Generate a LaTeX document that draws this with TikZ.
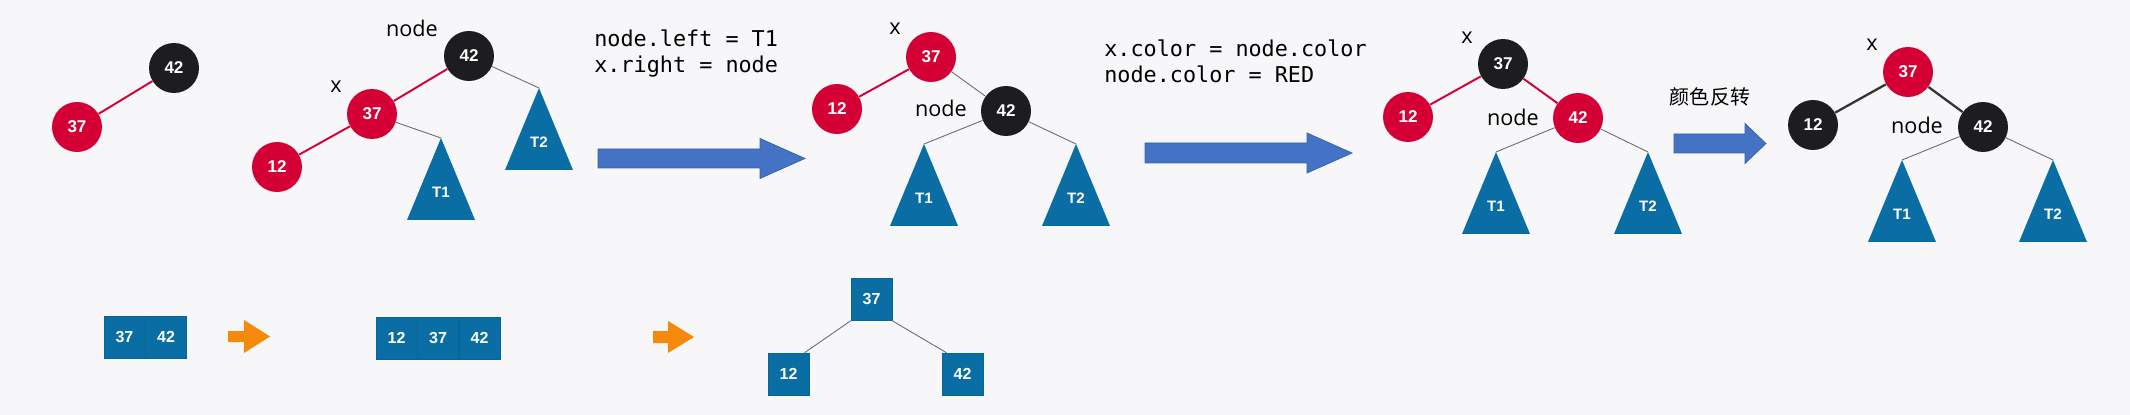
\documentclass[tikz,border=0pt]{standalone}
\usepackage{fontspec}
\setmainfont{Open Sans}
\setmonofont{DejaVu Sans Mono}
\newfontfamily\numfont{Liberation Sans}
\newfontfamily\cjk{Noto Sans CJK SC}
\usetikzlibrary{positioning, calc}

\definecolor{rbred}{HTML}{D40035}
\definecolor{rbblack}{HTML}{1D1D1F}
\definecolor{treeblue}{HTML}{0A6DA4}
\definecolor{arrowblue}{HTML}{4472C4}
\definecolor{arroworange}{HTML}{F5890A}
\definecolor{fundo}{HTML}{F7F7F9}

\tikzset{
  rb/.style={circle, minimum size=1cm, inner sep=0pt, text=white, font=\numfont\bfseries\fontsize{9.7}{10}\selectfont},
  redn/.style={rb, fill=rbred},
  blackn/.style={rb, fill=rbblack},
  lbl/.style={inner sep=0pt, font=\fontsize{12.3}{14}\selectfont},
  redge/.style={draw=rbred, line width=1.1pt},
  gedge/.style={draw=gray!85!black, line width=0.5pt},
  kedge/.style={draw=rbblack!90, line width=1.3pt},
  cell/.style={rectangle, fill=treeblue, draw=treeblue!92!black, line width=0.3pt, minimum width=0.82cm, minimum height=0.84cm, inner sep=0pt, text=white, font=\numfont\bfseries\fontsize{9.1}{10}\selectfont},
  code/.style={inner sep=0pt, align=left, anchor=base west, font=\ttfamily\fontsize{12.4}{14.8}\selectfont},
  bluearrow/.style={fill=arrowblue, draw=arrowblue!85!black, line width=0.4pt},
  orangearrow/.style={fill=arroworange, draw=none},
}

% sub-arvore: nome do vertice, x, y, rotulo
\newcommand{\subtree}[4]{
  \coordinate (#1) at (#2,#3);
  \fill[treeblue] (#1) -- ++(-34,82) -- ++(68,0) -- cycle;
  \node[text=white, font=\numfont\bfseries\fontsize{8.6}{10}\selectfont] (#1lbl) at (#2,#3+54) {#4};
}
% seta larga: x inicio, x cabeca, x ponta, y centro, meia haste, meia cabeca, estilo
\newcommand{\blockarrow}[7]{
  \path[#7] (#1,#4-#5) -- (#2,#4-#5) -- (#2,#4-#6) -- (#3,#4) -- (#2,#4+#6) -- (#2,#4+#5) -- (#1,#4+#5) -- cycle;
}

\begin{document}
\begin{tikzpicture}[x=0.02cm, y=-0.02cm]
\fill[fundo] (0,0) rectangle (2130,415);
\useasboundingbox (0,0) rectangle (2130,415);

% --- arvore 1 ---
\node[blackn] (a42) at (174,68) {42};
\node[redn] (a37) at (77,127) {37};
\draw[redge] (a42) -- (a37);

% --- arvore 2 ---
\node[blackn] (b42) at (469,56) {42};
\node[redn] (b37) at (372,114) {37};
\node[redn] (b12) at (277,167) {12};
\node[lbl] (bnode) at (412,28) {node};
\node[lbl] (bx) at (336,87) {x};
\subtree{bT1}{441}{138}{T1}
\subtree{bT2}{539}{88}{T2}
\draw[redge] (b42) -- (b37);
\draw[redge] (b37) -- (b12);
\draw[gedge] (b37) -- (bT1);
\draw[gedge] (b42) -- (bT2);

% --- passo 1 ---
\node[code] (code1) at (594,73) {node.left = T1\\x.right = node};
\blockarrow{598}{760}{805}{158.5}{9.5}{20}{bluearrow}

% --- arvore 3 ---
\node[redn] (c37) at (931,57) {37};
\node[redn] (c12) at (837,109) {12};
\node[blackn] (c42) at (1006,111) {42};
\node[lbl] (cx) at (895,29) {x};
\node[lbl] (cnode) at (941,108) {node};
\subtree{cT1}{924}{144}{T1}
\subtree{cT2}{1076}{144}{T2}
\draw[redge] (c37) -- (c12);
\draw[gedge] (c37) -- (c42);
\draw[gedge] (c42) -- (cT1);
\draw[gedge] (c42) -- (cT2);

% --- passo 2 ---
\node[code] (code2) at (1104,83) {x.color = node.color\\node.color = RED};
\blockarrow{1145}{1307}{1352}{153}{10}{20}{bluearrow}

% --- arvore 4 ---
\node[blackn] (d37) at (1503,64) {37};
\node[redn] (d12) at (1408,117) {12};
\node[redn] (d42) at (1578,118) {42};
\node[lbl] (dx) at (1467,38) {x};
\node[lbl] (dnode) at (1513,117) {node};
\subtree{dT1}{1496}{152}{T1}
\subtree{dT2}{1648}{152}{T2}
\draw[redge] (d37) -- (d12);
\draw[redge] (d37) -- (d42);
\draw[gedge] (d42) -- (dT1);
\draw[gedge] (d42) -- (dT2);

% --- passo 3 ---
\node[inner sep=0pt, font=\cjk\fontsize{11.4}{13}\selectfont] (flip) at (1710,97) {颜色反转};
\blockarrow{1674}{1745}{1766}{143.5}{9.5}{20}{bluearrow}

% --- arvore 5 ---
\node[redn] (e37) at (1908,72) {37};
\node[blackn] (e12) at (1813,125) {12};
\node[blackn] (e42) at (1983,127) {42};
\node[lbl] (ex) at (1872,45) {x};
\node[lbl] (enode) at (1917,125) {node};
\subtree{eT1}{1902}{160}{T1}
\subtree{eT2}{2053}{160}{T2}
\draw[kedge] (e37) -- (e12);
\draw[kedge] (e37) -- (e42);
\draw[gedge] (e42) -- (eT1);
\draw[gedge] (e42) -- (eT2);

% --- linha de baixo: no 2-3 ---
\node[cell] (s37) at (124.5,337) {37};
\node[cell, right=0pt of s37] (s42) {42};
\blockarrow{228}{244}{270}{336.5}{5.5}{16.5}{orangearrow}
\node[cell] (t12) at (396.5,338) {12};
\node[cell, right=0pt of t12] (t37) {37};
\node[cell, right=0pt of t37] (t42) {42};
\blockarrow{653}{668}{694}{337}{6}{16}{orangearrow}
\node[cell] (u37) at (871.5,299.5) {37};
\node[cell] (u12) at (788.5,374) {12};
\node[cell] (u42) at (962.5,374) {42};
\draw[gedge] (u37.south west) -- (u12.53);
\draw[gedge] (u37.south east) -- (u42.127);
\end{tikzpicture}
\end{document}
